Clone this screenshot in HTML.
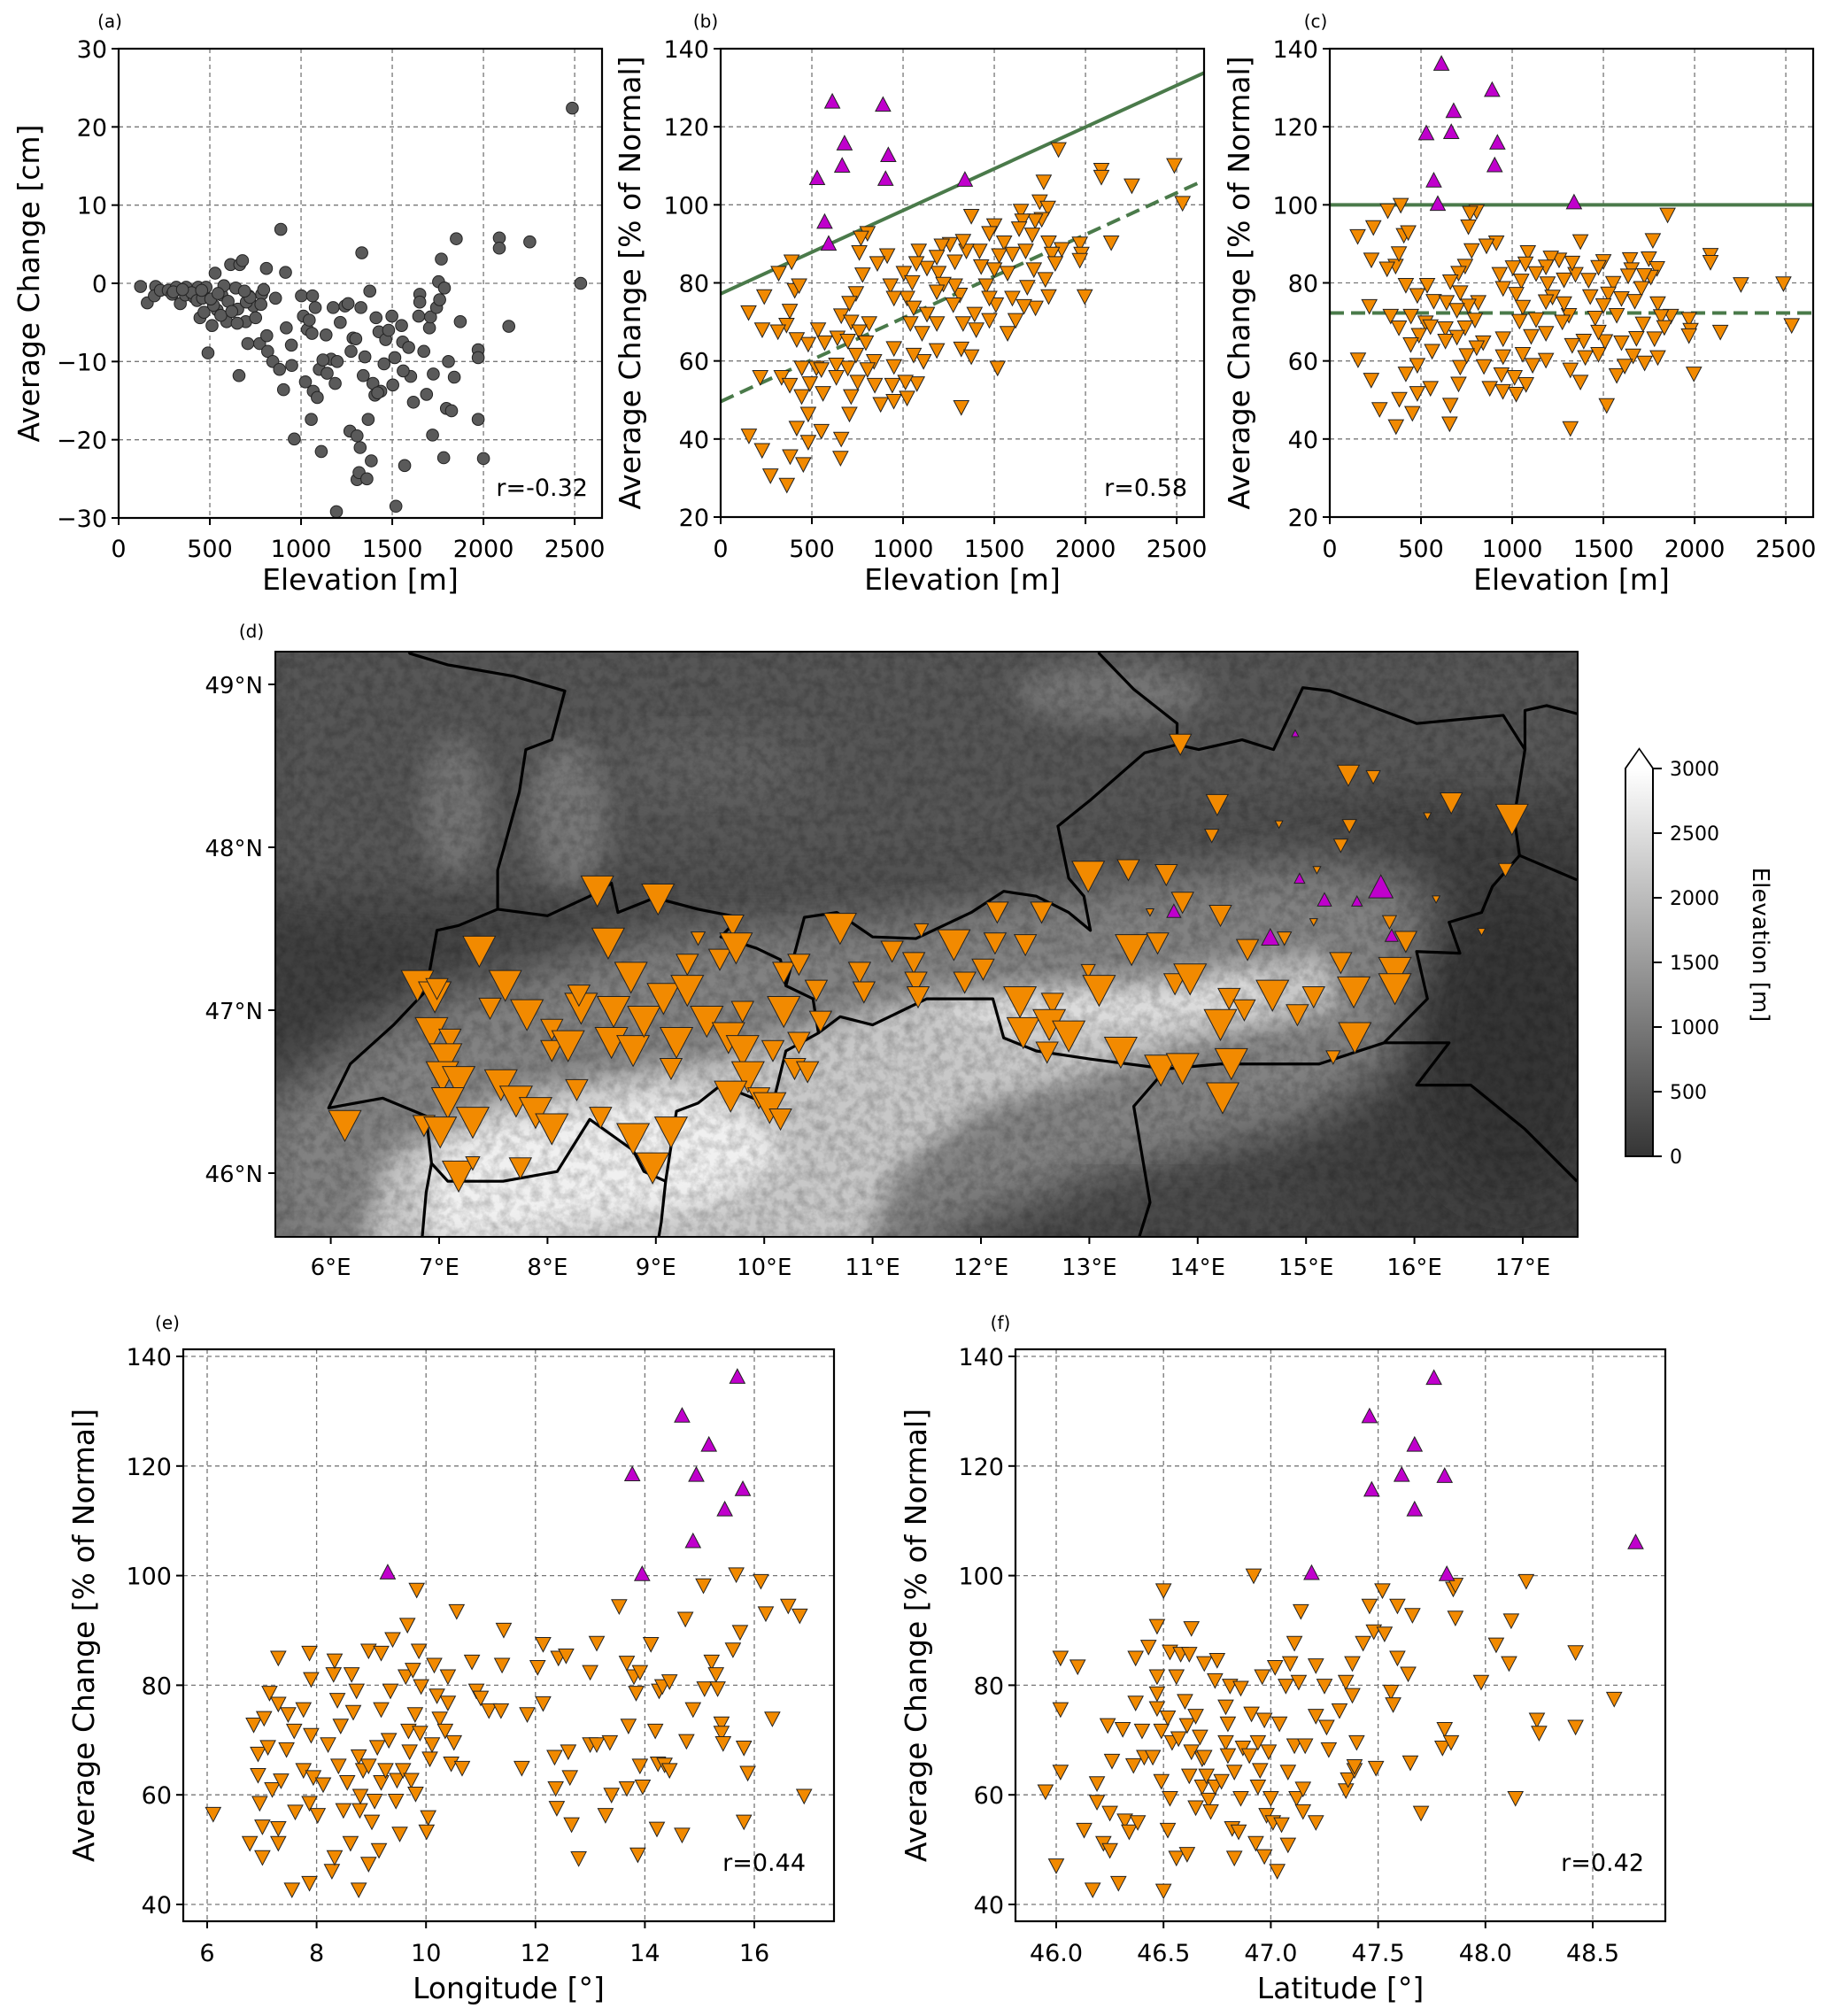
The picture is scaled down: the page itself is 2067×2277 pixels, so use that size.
<!DOCTYPE html>
<html><head><meta charset="utf-8"><title>Snow change figure</title>
<style>
html,body{margin:0;padding:0;background:#fff;}
svg{display:block;font-family:"DejaVu Sans","Liberation Sans",sans-serif;}
</style></head>
<body>
<svg id="fig" xmlns="http://www.w3.org/2000/svg" width="2067" height="2277" viewBox="0 0 2067 2277">
<defs>
<linearGradient id="cbgrad" x1="0" y1="1" x2="0" y2="0">
<stop offset="0" stop-color="#353535"/><stop offset="1" stop-color="#ffffff"/>
</linearGradient>
<clipPath id="mapclip"><rect x="311" y="736" width="1471" height="661"/></clipPath>
<filter id="blur30" x="-20%" y="-20%" width="140%" height="140%"><feGaussianBlur stdDeviation="30"/></filter>
<filter id="blur15" x="-20%" y="-20%" width="140%" height="140%"><feGaussianBlur stdDeviation="14"/></filter>
<filter id="blur8" x="-20%" y="-20%" width="140%" height="140%"><feGaussianBlur stdDeviation="8"/></filter>
<filter id="noise" x="0" y="0" width="100%" height="100%">
<feTurbulence type="fractalNoise" baseFrequency="0.09" numOctaves="4" seed="3"/>
<feColorMatrix type="matrix" values="0 0 0 0 0  0 0 0 0 0  0 0 0 0 0  0 0 0 -1.3 0.85"/>
</filter>
</defs>
<g id="layer"></g>
</svg>
<script>
// ---------------- DATA ----------------
// Panel (a): elevation [m] vs average change [cm]
const aElev=[120,157,203,196,229,272,294,316,338,366,370,414,436,446,468,479,490,512,529,540,566,577,592,614,642,653,660,664,679,697,708,714,740,751,773,784,795,810,812,817,845,860,882,889,904,915,919,947,949,963,1002,1013,1024,1035,1045,1056,1063,1067,1078,1089,1100,1111,1137,1143,1165,1176,1187,1194,1198,1215,1241,1258,1268,1274,1285,1307,1307,1318,1324,1333,1328,1341,1350,1361,1368,1377,1385,1394,1405,1411,1427,1437,1455,1464,1498,1503,1514,1520,1551,1557,1568,1590,1601,1616,1645,1651,1651,1673,1688,1704,1710,1721,1725,1743,1754,1760,1769,1782,1786,1797,1808,1825,1840,1851,1873,1971,1971,2000,2087,2087,2139,2254,2487,2533,1971,400,430,460,520,560,600,650,700,720,780,300,350,455,505,545,620,690,1060,1120,1300,1420,1480,1560];
const aChange=[-0.4,-2.5,-0.4,-1.6,-0.9,-0.9,-1.4,-0.5,-2.6,-1.5,-0.5,-1.8,-0.5,-4.4,-3.7,-0.5,-8.9,-5.4,1.3,-3.4,-1.5,-0.3,-4.9,2.4,-0.6,-3.3,-11.8,2.4,2.9,-4.9,-7.7,-1.6,-2.9,-4.4,-7.7,-1.4,-0.8,1.9,-6.7,-8.7,-10,-1.9,-11,6.9,-13.6,1.4,-5.7,-7.9,-10.5,-19.9,-1.6,-4.2,-12.6,-5.9,-4.7,-17.4,-1.6,-13.8,-3.1,-14.6,-11,-21.5,-6.6,-11.5,-9.7,-3.1,-12.8,-29.2,-10,-5,-2.9,-2.6,-18.9,-8.7,-7,-19.5,-25.1,-24.2,-21,3.9,-3.1,-11.8,-9.4,-25,-17.4,-1,-22.7,-12.8,-14.3,-4.4,-6.2,-13.8,-10.3,-7.2,-4.2,-13,-9.5,-28.5,-5.4,-7.5,-23.3,-8.2,-11.9,-15.2,-4.2,-1.4,-2.4,-8.7,-14.2,-5.7,-4.3,-19.4,-11.6,-3.1,0.2,-2.1,3.1,-22.3,-0.6,-16,-10,-16.3,-12,5.7,-4.9,-8.5,-17.4,-22.4,5.8,4.5,-5.5,5.3,22.4,0,-9.5,-1.2,-2.2,-1.9,-2.8,-4.1,-2.3,-5.1,-2.4,-1.8,-2.7,-1.1,-0.8,-0.9,-2.0,-1.3,-3.6,-1.0,-6.4,-9.8,-7.1,-14.0,-6.0,-11.2];
const aTicksX=[0,500,1000,1500,2000,2500];
const aTicksY=[-30,-20,-10,0,10,20,30];

// Panel (b): elevation vs % of normal; (c): detrended
const bElevUp=[612,890,679,919,666,529,904,1339,570,592];
const bValUp=[126.6,125.8,115.9,112.9,110.2,107,106.8,106.6,95.8,90.2];
const cValUp=[136.3,129.6,124.2,116.1,118.8,118.5,110.3,100.8,106.4,100.4];
const bElevDn=[1852,2087,2087,2487,2532,2254,1771,1749,1794,1760,1724,1374,1500,1646,1654,1636,1473,1708,2141,1969,1978,1969,1870,1798,1816,1834,1554,1599,1672,1717,1780,1798,1996,1681,1726,1663,1573,1617,1473,1509,1599,1573,1527,1419,1428,1500,1455,1473,1392,1401,1329,1311,1284,1275,1347,1329,1257,1284,1212,1185,1194,1221,1185,1131,1086,1073,1004,1050,1022,1058,1131,1185,1104,1185,1112,1058,950,1040,931,950,913,859,805,769,760,778,742,706,661,715,814,760,796,742,841,805,697,634,570,640,697,534,480,417,361,379,406,430,389,318,239,153,228,314,217,334,379,445,525,552,489,561,444,480,417,480,381,453,552,661,657,706,715,634,751,845,877,949,1022,1076,1013,950,155,227,273,363,1518,1319,1319,1374,941];
const bValDn=[114.1,108.8,107,110,100.3,104.8,105.8,100.7,99.1,96.2,95.8,97,94.6,98.3,95.8,93.8,92.6,92.2,90.2,89.9,87.3,85.7,88.5,90.2,87.3,84.9,90.2,87.3,88.1,83.3,80.8,76.4,76.4,78.8,73.5,73.9,67,70.3,70.3,74.3,76,82.4,86.9,88.1,84.1,83.3,79.2,76,71.9,67.9,69.5,76.8,79.2,74.3,88.1,90.6,89.8,85.3,89.4,86.5,82.4,79.6,77.6,83.7,88.1,84.9,82.4,80,76,73.5,71.9,69.5,67,62.6,59.8,61.4,63.1,69.5,79.2,76,86.9,84.9,92.6,91.4,87.7,82,77.2,74.7,71.5,69.9,69.5,67.4,64.6,61.4,59.8,57.7,58.1,58.9,64.6,65.8,65,67.9,64.2,65.4,69.1,72.7,78,79.2,85.3,82.4,76.4,72.3,67.9,67.4,55.7,55.7,53.7,58.1,58.1,57.7,54.1,51.6,50.8,46.3,42.7,39.1,35.4,33.4,41.9,39.9,35,46.3,50.8,55.7,54.5,53.7,48.8,49.6,50.4,54.1,54.5,58.5,40.7,37,30.5,28.1,58.1,48,63,61,53.7];
const cValDn=[97.3,87.0,85.2,79.7,69.0,79.5,90.8,86.1,83.6,81.4,81.8,90.5,85.4,85.9,83.3,81.7,83.9,78.5,67.3,70.6,67.8,66.4,71.4,74.6,71.3,68.5,79.8,75.9,75.2,69.4,65.6,60.8,56.6,65.7,59.4,61.2,56.2,58.6,61.6,64.9,64.6,71.6,77.1,80.6,76.4,74.1,70.9,67.3,65.0,60.8,63.9,71.6,74.6,69.9,82.1,85.0,85.8,80.7,86.3,84.0,79.7,76.3,75.1,82.3,87.7,84.8,83.8,80.4,77.0,73.7,70.5,67.0,66.2,60.1,58.8,61.6,65.6,70.1,82.1,78.5,90.2,89.4,98.2,97.8,94.3,88.2,84.2,82.4,80.2,77.4,74.9,74.0,70.4,68.4,64.6,63.3,66.0,68.2,75.2,74.9,72.9,79.3,76.7,79.3,84.2,87.4,92.1,92.8,99.8,98.4,94.1,91.8,85.8,83.5,73.9,71.4,68.4,71.4,69.7,68.7,66.5,62.4,64.1,58.8,56.6,51.6,50.1,46.5,52.9,48.6,43.8,54.0,58.3,65.0,61.3,58.5,52.9,52.1,51.4,53.9,55.7,61.0,60.2,55.0,47.5,43.1,48.5,42.6,57.6,54.5,56.4];
const bTrendIntercept=[77.2,49.6];   // solid, dashed at elevation 0
const bTrendSlope=[0.02136,0.02139]; // per metre
const cLevels=[100,72.3];            // solid, dashed
const pctTicks=[20,40,60,80,100,120,140];
const elevTicks=[0,500,1000,1500,2000,2500];

// Panel (d): stations [lon], [lat], [value % of normal]
const mapLon=[6.13,6.80,6.96,6.98,6.93,7.10,7.06,7.03,7.18,7.08,6.86,7.01,7.31,7.18,7.31,7.37,7.57,7.61,7.47,7.71,7.75,7.81,7.89,8.04,8.04,8.04,8.19,8.31,8.29,8.27,8.49,8.56,8.46,8.59,8.79,8.77,8.61,8.79,8.97,9.02,9.14,8.89,9.07,9.19,9.29,9.29,9.14,9.39,9.47,9.59,9.71,9.74,9.67,9.80,9.80,9.85,9.95,9.69,10.05,10.15,10.08,10.18,10.18,10.32,10.32,10.28,10.40,10.48,10.52,10.70,10.88,10.92,11.18,11.38,11.40,11.42,11.45,11.75,11.85,12.02,12.13,12.15,12.41,12.56,12.36,12.66,12.39,12.63,12.81,12.61,12.99,13.36,13.71,12.99,13.09,13.39,13.63,13.29,13.66,13.86,14.21,14.31,14.23,13.86,14.21,13.79,13.93,14.29,14.43,14.69,14.46,14.80,14.92,15.07,15.32,15.44,15.45,15.82,15.82,15.92,15.77,15.25,16.20,16.62,16.84,16.90,16.34,16.12,15.39,15.62,15.40,15.32,15.10,14.75,14.13,14.18,13.84,13.56,15.07,14.90,14.94,15.17,15.47,15.69,13.78,14.67,15.79];
const mapLat=[46.29,47.15,47.08,47.13,46.86,46.82,46.70,46.59,46.56,46.43,46.29,46.25,46.31,45.98,46.06,47.36,46.54,47.15,47.01,46.44,46.03,46.97,46.37,46.27,46.88,46.75,46.78,47.01,47.09,46.51,46.34,47.41,47.73,46.80,46.75,47.20,46.99,46.21,46.03,47.68,46.25,46.93,47.07,46.80,47.12,47.28,46.64,47.44,46.93,47.31,47.52,47.38,46.83,46.99,46.75,46.59,46.46,46.47,46.40,46.33,46.75,46.99,47.23,47.28,46.80,46.64,46.62,47.12,46.93,47.50,47.23,47.11,47.36,47.29,47.17,47.08,47.49,47.40,47.17,47.25,47.41,47.60,47.40,47.60,47.05,47.04,46.86,46.91,46.84,46.74,47.82,47.86,47.83,47.24,47.12,47.37,47.41,46.74,46.63,46.64,46.91,46.67,46.46,47.66,47.58,47.16,47.19,47.07,47.00,47.09,47.37,47.44,46.97,47.08,47.29,47.11,46.83,47.23,47.13,47.42,47.54,46.71,47.68,47.48,47.86,48.17,48.27,48.19,48.44,48.43,48.13,48.01,47.86,48.14,48.07,48.26,48.63,47.60,47.54,48.70,47.81,47.68,47.67,47.76,47.61,47.45,47.46];
const mapVal=[50,50,50,68,50,68,50,50,50,50,68,50,50,50,82,50,50,50,68,50,68,50,50,50,68,68,50,50,68,68,68,50,50,50,50,50,50,50,50,50,50,50,50,50,50,68,68,82,50,68,68,50,50,68,50,50,68,50,50,68,68,50,68,68,68,68,68,68,68,50,68,68,68,68,68,68,82,50,68,68,68,68,68,68,50,68,50,50,50,68,50,68,68,82,50,50,68,50,50,50,50,50,50,68,68,68,50,68,68,50,68,82,68,68,68,50,50,50,50,68,82,82,93,93,82,50,68,93,68,82,82,82,93,93,82,68,68,93,93,106,112,118,112,136,118,124,116];
const lonTicks=[6,7,8,9,10,11,12,13,14,15,16,17];
const latTicks=[46,47,48,49];
const cbTicks=[0,500,1000,1500,2000,2500,3000];

// Panel (e): longitude; (f): latitude
const eLonUp=[9.30,13.77,13.95,14.68,14.88,14.94,15.17,15.46,15.69,15.79];
const eValUp=[100.7,118.6,100.4,129.3,106.4,118.5,124,112.2,136.4,115.9];
const eLonDn=[6.11,6.78,6.85,6.93,6.93,6.96,7.01,7.01,7.04,7.11,7.14,7.19,7.30,7.30,7.30,7.30,7.35,7.45,7.48,7.55,7.59,7.61,7.76,7.76,7.87,7.87,7.90,7.90,7.87,7.94,8.02,8.12,8.21,8.28,8.31,8.33,8.33,8.38,8.40,8.44,8.49,8.56,8.62,8.64,8.67,8.73,8.77,8.77,8.79,8.80,8.85,8.95,8.95,8.95,9.01,9.06,9.11,9.14,9.18,9.18,9.18,9.26,9.32,9.35,9.39,9.45,9.47,9.52,9.58,9.63,9.66,9.68,9.70,9.73,9.76,9.80,9.81,9.83,9.87,9.89,9.91,10.01,10.04,10.07,10.11,10.15,10.20,10.25,10.35,10.40,10.40,10.46,10.51,10.56,10.66,10.84,10.92,11.00,11.15,11.37,11.39,11.42,11.75,11.85,12.04,12.14,12.14,12.35,12.37,12.39,12.42,12.56,12.60,12.63,12.66,12.79,13.0,13.0,13.12,13.12,13.28,13.36,13.39,13.53,13.67,13.67,13.70,13.80,13.84,13.87,13.91,13.91,13.96,14.11,14.19,14.22,14.24,14.26,14.32,14.36,14.45,14.45,14.68,14.74,14.76,14.88,15.07,15.09,15.22,15.30,15.33,15.40,15.40,15.43,15.67,15.61,15.74,15.81,15.88,15.81,16.12,16.21,16.33,16.62,16.83,16.91];
const eValDn=[56.4,51.1,72.7,67.4,63.5,58.4,54.1,48.5,73.9,68.6,78.5,60.9,76.5,51.1,53.8,84.9,62.5,68.2,74.6,42.6,71.6,56.8,64.4,75.5,43.8,85.8,81.0,70.8,58.4,63.1,56.2,61.8,69.1,46.0,81.9,84.4,48.5,77.2,65.2,72.5,57.1,62.2,51.1,81.9,75,78.9,42.6,66.9,57.1,59.7,64.4,47.3,65.2,86.2,55,58.8,68.6,49.8,85.8,62.2,75.5,64.4,69.9,78.9,88.3,58.8,62.6,52.8,64.4,81.5,90.9,71.6,67.8,62.6,82.7,74.6,60.1,97.3,86.2,71.2,79.7,53.2,55.8,66.5,69.1,83.6,78.0,73.8,71.6,81.5,76.7,65.6,69.5,93.4,64.8,84.2,78.9,77.6,75.3,75.3,83.6,90,64.8,74.6,83.2,87.4,76.6,66.8,61.1,57.5,84.9,85.3,67.8,63.1,54.5,48.3,82.3,69.1,87.6,69.1,56.2,69.5,59.9,94.3,84.0,61.1,72.5,81.5,78.5,49,65.2,82.3,61.4,87.4,71.6,53.7,65.6,78.9,79.7,65.4,80.6,64.4,52.6,92,69.7,75.5,98.1,79.3,84.2,81.9,79.3,72.9,71.2,69.3,100.1,86.4,89.6,68.5,63.9,55.0,98.9,93,73.8,94.4,92.6,59.7];
const fLatUp=[47.19,47.46,47.47,47.61,47.67,47.67,47.76,47.81,47.82,48.70];
const fValUp=[100.6,129.2,115.8,118.5,124,112.2,136.2,118.3,100.4,106.2];
const fLatDn=[45.95,46.0,46.02,46.02,46.02,46.10,46.13,46.17,46.19,46.19,46.22,46.24,46.25,46.25,46.26,46.29,46.31,46.32,46.34,46.36,46.37,46.37,46.38,46.40,46.41,46.43,46.45,46.47,46.47,46.47,46.47,46.49,46.49,46.50,46.50,46.52,46.52,46.53,46.53,46.54,46.56,46.56,46.57,46.58,46.60,46.61,46.61,46.62,46.62,46.63,46.63,46.65,46.65,46.67,46.68,46.68,46.69,46.69,46.70,46.71,46.72,46.74,46.74,46.75,46.77,46.79,46.79,46.80,46.80,46.81,46.82,46.83,46.83,46.85,46.86,46.86,46.87,46.90,46.91,46.92,46.93,46.94,46.94,46.95,46.96,46.97,46.97,46.98,46.99,47.00,47.01,47.02,47.03,47.04,47.05,47.07,47.08,47.08,47.09,47.11,47.11,47.12,47.13,47.14,47.15,47.15,47.16,47.21,47.21,47.21,47.25,47.26,47.27,47.32,47.35,47.35,47.36,47.38,47.38,47.39,47.39,47.40,47.43,47.46,47.48,47.49,47.52,47.53,47.56,47.57,47.59,47.59,47.64,47.65,47.66,47.70,47.80,47.81,47.84,47.85,47.86,47.86,47.98,48.05,48.11,48.12,48.14,48.19,48.24,48.25,48.42,48.42,48.60];
const fValDn=[60.5,47,84.9,75.5,64.1,83.3,53.5,42.6,58.6,62,51.1,72.6,56.6,49.8,66.1,43.8,71.9,55.2,53.2,65.3,84.9,76.7,54.9,71.6,66.8,86.9,66.8,90.7,78.4,75.7,81.5,62.4,71.6,97.2,42.4,53.5,74.0,59.3,86.0,69.5,48.4,81.5,70.2,85.6,77.0,72.6,49.1,85.6,63.4,90.3,67.8,74.3,57.6,70.5,66.5,61.4,83.9,66.8,63.4,59,56.9,80.8,61.4,84.5,62.4,69.5,76,72.9,67.1,79.8,53.8,48.4,64.1,53.2,79.4,59.3,68.5,67.1,74.7,99.9,51.1,69.5,61.4,64.4,81.5,48.7,73.6,56.2,67.8,59.3,54.9,83.2,46.0,72.9,54.5,79.8,50.8,64.1,83.9,87.6,68.9,59.3,80.5,93.4,56.9,61,68.9,54.9,74.3,83.5,79.8,72.3,68.2,75.3,60.7,80.5,62.7,78.1,83.9,64.4,65.1,69.5,87.6,94.4,89.7,64.8,97.2,89.3,78.7,76.4,94.4,84.9,82.0,65.8,92.7,56.6,68.5,71.9,69.5,97.5,92.2,98.2,80.5,87.3,83.9,91.7,59.3,98.9,73.6,71.2,85.9,72.3,77.4];
const eTicks=[6,8,10,12,14,16];
const fTicks=[46.0,46.5,47.0,47.5,48.0,48.5];
const ecTicks=[40,60,80,100,120,140];

// ---------------- DRAWING ----------------
const NS='http://www.w3.org/2000/svg';
const root=document.getElementById('layer');
function mk(tag,attrs,parent){const e=document.createElementNS(NS,tag);for(const k in attrs)e.setAttribute(k,attrs[k]);(parent||root).appendChild(e);return e;}
function lin(d0,d1,r0,r1){return v=>r0+(v-d0)/(d1-d0)*(r1-r0);}
const ORANGE='#f28a00', PURPLE='#c000cc';

function txt(x,y,s,size,anchor,parent,extra){const t=mk('text',Object.assign({x:x,y:y,'font-size':size,'text-anchor':anchor||'middle',fill:'#000'},extra||{}),parent);t.textContent=s;return t;}

function axesFrame(cfg){
  const g=mk('g',{});
  
  
  const {L,R,T,B,sx,sy}=cfg;
  cfg.xt.forEach(v=>{const l=mk('line',{x1:sx(v),x2:sx(v),y1:T,y2:B,stroke:'#777','stroke-width':1.3,'stroke-dasharray':'5,4'},g);
    
    });
  cfg.yt.forEach(v=>{const l=mk('line',{x1:L,x2:R,y1:sy(v),y2:sy(v),stroke:'#777','stroke-width':1.3,'stroke-dasharray':'5,4'},g);
    
    });
  cfg.xt.forEach((v,i)=>{mk('line',{x1:sx(v),x2:sx(v),y1:B,y2:B+8,stroke:'#000','stroke-width':2},g);
    const t=txt(sx(v),cfg.xtY,cfg.xfmt(v),27,'middle',g);
    
    });
  cfg.yt.forEach(v=>{mk('line',{x1:L-8,x2:L,y1:sy(v),y2:sy(v),stroke:'#000','stroke-width':2},g);
    const t=txt(L-13,sy(v)+10,cfg.yfmt(v),27,'end',g);
    
    });
  const xl=txt((L+R)/2,cfg.xlY,cfg.xlabel,33,'middle',g);
  
  
  const yl=txt(0,0,cfg.ylabel,33,'middle',g,{transform:`translate(${cfg.ylX},${(T+B)/2}) rotate(-90)`});
  
  
  const pl=txt(cfg.plX,cfg.plY,cfg.plabel,20,'middle',g);
  
  
  return g;
}
function frameBox(cfg,g){const r=mk('rect',{x:cfg.L,y:cfg.T,width:cfg.R-cfg.L,height:cfg.B-cfg.T,fill:'none',stroke:'#000','stroke-width':2.2},g);
  
  }
function tri(x,y,w,up,fill,g,name){
  const h=w*0.95;
  const d=up?`M${x-w/2},${y+h/2} L${x+w/2},${y+h/2} L${x},${y-h/2} Z`:`M${x-w/2},${y-h/2} L${x+w/2},${y-h/2} L${x},${y+h/2} Z`;
  const p=mk('path',{d:d,fill:fill,stroke:'#222','stroke-width':1,'stroke-linejoin':'miter'},g);
  
  
  return p;
}
function rtext(x,y,s,g){const t=txt(x,y,s,27,'end',g);
  
  }
const minus=v=>String(v).replace('-','\u2212');

// ---- Panel (a)
(function(){
  const cfg={name:'panel-a',L:134,R:680,T:55,B:585,xt:aTicksX,yt:aTicksY,xfmt:v=>v,yfmt:minus,xtY:629,xlY:666,ylX:44,
    xlabel:'Elevation [m]',ylabel:'Average Change [cm]',plabel:'(a)',plX:124,plY:31};
  cfg.sx=lin(0,2650,cfg.L,cfg.R); cfg.sy=lin(-30,30,cfg.B,cfg.T);
  const g=axesFrame(cfg);
  aElev.forEach((e,i)=>{const c=mk('circle',{cx:cfg.sx(e),cy:cfg.sy(aChange[i]),r:6.8,fill:'#5a5a5a',stroke:'#222','stroke-width':1},g);
    
    });
  frameBox(cfg,g);
  rtext(664,560,'r=-0.32',g);
})();

// ---- Panel (b) and (c)
function pctPanel(name,L,R,plabel,plX,upVals,dnVals,isDetrended){
  const cfg={name:name,L:L,R:R,T:55,B:584,xt:elevTicks,yt:pctTicks,xfmt:v=>v,yfmt:v=>v,xtY:629,xlY:666,ylX:L-91,
    xlabel:'Elevation [m]',ylabel:'Average Change [% of Normal]',plabel:plabel,plX:plX,plY:31};
  cfg.sx=lin(0,2650,L,R); cfg.sy=lin(20,140,cfg.B,cfg.T);
  const g=axesFrame(cfg);
  const cp='clip-'+name;
  const cl=mk('clipPath',{id:cp},g); mk('rect',{x:L,y:cfg.T,width:R-L,height:cfg.B-cfg.T},cl);
  for(let k=0;k<2;k++){
    let y0,y1;
    if(isDetrended){y0=cfg.sy(cLevels[k]);y1=y0;}
    else{y0=cfg.sy(bTrendIntercept[k]);y1=cfg.sy(bTrendIntercept[k]+bTrendSlope[k]*2650);}
    const ln=mk('line',{x1:L,x2:R,y1:y0,y2:y1,stroke:'#4a7a4a','stroke-width':4,'stroke-dasharray':k?'16,8':'none','clip-path':`url(#${cp})`},g);
    
    
  }
  bElevDn.forEach((e,i)=>tri(cfg.sx(e),cfg.sy(dnVals[i]),17,false,ORANGE,g,'decrease-marker'));
  bElevUp.forEach((e,i)=>tri(cfg.sx(e),cfg.sy(upVals[i]),17,true,PURPLE,g,'increase-marker'));
  frameBox(cfg,g);
  return g;
}
const gb=pctPanel('panel-b',814,1360,'(b)',797,bValUp,bValDn,false);
rtext(1341,560,'r=0.58',gb);
pctPanel('panel-c',1502,2048,'(c)',1486,cValUp,cValDn,true);

// ---- Panel (d) map
(function(){
  const g=mk('g',{});
  
  
  const px=lin(6,17,373.6,1720), py=lin(49,46,773,1325);
  const P=a=>a.map(p=>px(p[0])+','+py(p[1])).join(' ');
  const bg=mk('g',{'clip-path':'url(#mapclip)'},g);
  
  
  mk('rect',{x:311,y:736,width:1471,height:661,fill:'#404040'},bg);
  mk('polygon',{points:P([[5.3,47.7],[7.5,47.6],[9,47.75],[10.5,47.75],[12.5,47.9],[14,48.1],[16,48.3],[17.7,48.3],[17.7,49.4],[5.3,49.4]]),fill:'#575757',filter:'url(#blur30)'},bg);
  mk('polygon',{points:P([[5.3,45.4],[5.3,46.4],[6.2,46.8],[7.0,47.1],[8,47.3],[9,47.5],[10,47.55],[11,47.6],[12,47.7],[13,47.8],[14,47.9],[15,47.95],[16,47.85],[16.3,47.4],[16.1,46.8],[15,46.3],[14,46.1],[13,45.9],[12,45.7],[11,45.3]]),fill:'#828282',filter:'url(#blur30)'},bg);
  mk('polygon',{points:P([[6.2,45.3],[6.5,46.1],[7.5,46.45],[8.5,46.6],[9.5,46.7],[10.5,46.9],[11.5,47.1],[12.5,47.15],[13.5,47.2],[14.5,47.3],[15.2,47.35],[15.3,47.0],[14,46.8],[13,46.6],[12,46.4],[11.2,46.0],[10.8,45.3]]),fill:'#c8c8c8',filter:'url(#blur15)'},bg);
  mk('polygon',{points:P([[6.9,45.6],[6.9,46.1],[7.5,46.3],[8.3,46.4],[9.2,46.5],[9.8,46.4],[10.2,46.1],[9.5,45.8],[8.5,45.7],[7.6,45.6]]),fill:'#f0f0f0',filter:'url(#blur15)'},bg);
  mk('polygon',{points:P([[11.5,47.0],[12.5,47.1],[13.5,47.1],[14.5,47.2],[14.6,47.0],[13.5,46.9],[12.3,46.85]]),fill:'#dcdcdc',filter:'url(#blur8)'},bg);
  mk('ellipse',{cx:px(8.2),cy:py(48.2),rx:45,ry:85,fill:'#777',filter:'url(#blur15)'},bg);
  mk('ellipse',{cx:px(7.15),cy:py(48.25),rx:40,ry:80,fill:'#727272',filter:'url(#blur15)'},bg);
  mk('ellipse',{cx:px(13.2),cy:py(48.95),rx:110,ry:35,fill:'#747474',filter:'url(#blur15)'},bg);
  mk('ellipse',{cx:px(9.5),cy:py(48.5),rx:120,ry:40,fill:'#646464',filter:'url(#blur30)'},bg);
  mk('ellipse',{cx:px(16.9),cy:py(46.8),rx:110,ry:170,fill:'#363636',filter:'url(#blur30)'},bg);
  mk('ellipse',{cx:px(14.0),cy:py(45.75),rx:160,ry:40,fill:'#4c4c4c',filter:'url(#blur30)'},bg);
  mk('rect',{x:311,y:736,width:1471,height:661,filter:'url(#noise)',opacity:0.3},bg);
  const borders=[
    [[6.69,49.25],[6.73,49.19],[7.08,49.12],[7.69,49.05],[8.16,48.96],[8.04,48.66],[7.8,48.6],[7.74,48.34],[7.6,48.0],[7.54,47.86],[7.54,47.62]],
    [[7.54,47.62],[8.0,47.58],[8.39,47.70],[8.59,47.78],[8.65,47.6],[8.99,47.69],[9.39,47.62],[9.77,47.57],[9.6,47.45],[9.93,47.38],[10.15,47.31],[10.20,47.15],[10.45,47.07],[10.50,46.86],[10.20,46.75],[10.10,46.48],[9.90,46.46],[9.60,46.54],[9.39,46.43],[9.19,46.38],[9.09,45.95],[8.89,46.01],[8.79,46.14],[8.39,46.33],[8.09,46.01],[7.59,45.95],[7.08,45.95],[6.93,46.06],[6.88,46.35],[6.48,46.46],[5.98,46.40],[6.18,46.67],[6.58,46.91],[6.88,47.12],[6.98,47.49],[7.18,47.52],[7.54,47.62]],
    [[10.20,47.15],[10.37,47.57],[10.67,47.60],[11.0,47.45],[11.40,47.44],[11.91,47.60],[12.21,47.73],[12.51,47.70],[12.81,47.60],[13.01,47.49],[12.95,47.7],[12.81,47.81],[12.71,48.13],[13.01,48.29],[13.51,48.58],[13.81,48.63],[14.01,48.60],[14.41,48.66],[14.70,48.60],[14.97,48.98],[15.22,48.96],[16.02,48.76],[16.82,48.81],[17.02,48.60],[16.92,48.18],[16.97,47.95],[16.72,47.76],[16.62,47.60],[16.32,47.54],[16.42,47.35],[16.02,47.36],[16.12,47.07],[15.72,46.80],[15.12,46.67],[14.21,46.67],[13.71,46.64],[13.01,46.70],[12.51,46.75],[12.21,46.83],[12.11,47.07],[11.50,47.07],[11.00,46.91],[10.70,46.96],[10.50,46.86]],
    [[13.09,49.25],[13.09,49.19],[13.41,48.97],[13.81,48.76],[13.81,48.63]],
    [[17.02,48.60],[17.02,48.84],[17.22,48.87],[17.5,48.82]],
    [[16.97,47.95],[17.5,47.8]],
    [[13.41,45.5],[13.56,45.82],[13.41,46.41],[13.71,46.64]],
    [[15.72,46.80],[16.32,46.80],[16.02,46.54],[16.52,46.54],[17.02,46.27],[17.5,45.95]],
    [[6.93,46.06],[6.88,45.88],[6.83,45.5]],
    [[9.09,45.95],[9.05,45.7],[9.0,45.5]]
  ];
  borders.forEach(b=>{const l=mk('polyline',{points:P(b),fill:'none',stroke:'#000','stroke-width':3.2,'stroke-linejoin':'round'},bg);
    
    });
  const sz=v=>4+0.65*Math.abs(100-v);
  mapLon.forEach((lo,i)=>{const v=mapVal[i];tri(px(lo),py(mapLat[i]),sz(v),v>=100,v>=100?PURPLE:ORANGE,bg,'station-marker');});
  const fr=mk('rect',{x:311,y:736,width:1471,height:661,fill:'none',stroke:'#000','stroke-width':2},g);
  
  
  lonTicks.forEach(v=>{mk('line',{x1:px(v),x2:px(v),y1:1397,y2:1405,stroke:'#000','stroke-width':2},g);
    const t=txt(px(v),1440,v+'°E',26,'middle',g);
    
    });
  latTicks.forEach(v=>{mk('line',{x1:303,x2:311,y1:py(v),y2:py(v),stroke:'#000','stroke-width':2},g);
    const t=txt(297,py(v)+10,v+'°N',26,'end',g);
    
    });
  const pl=txt(284,720,'(d)',20,'middle',g);
  
  
  const cb=mk('g',{},g);
  
  
  const cy=lin(0,3000,1306,868);
  mk('rect',{x:1836,y:868,width:31,height:438,fill:'url(#cbgrad)'},cb);
  mk('path',{d:'M1836,1306 L1836,868 L1851.5,846 L1867,868 L1867,1306 Z',fill:'none',stroke:'#000','stroke-width':2},cb);
  mk('path',{d:'M1837,868 L1851.5,847 L1866,868 Z',fill:'#fff'},cb);
  cbTicks.forEach(v=>{mk('line',{x1:1867,x2:1877,y1:cy(v),y2:cy(v),stroke:'#000','stroke-width':2},cb);
    const t=txt(1886,cy(v)+8,String(v),22,'start',cb);
    
    });
  const et=txt(0,0,'Elevation [m]',26,'middle',cb,{transform:'translate(1980,1067) rotate(90)'});
  
  
})();

// ---- Panels (e),(f)
function lowerPanel(name,L,R,d0,d1,r0,r1,ticks,fmt,xlabel,plabel,plX,upX,upV,dnX,dnV){
  const cfg={name:name,L:L,R:R,T:1524,B:2170,xt:ticks,yt:ecTicks,xfmt:fmt,yfmt:v=>v,xtY:2215,xlY:2257,ylX:L-101,
    xlabel:xlabel,ylabel:'Average Change [% of Normal]',plabel:plabel,plX:plX,plY:1501};
  cfg.sx=lin(d0,d1,r0,r1); cfg.sy=lin(40,140,2151,1532);
  const g=axesFrame(cfg);
  dnX.forEach((x,i)=>tri(cfg.sx(x),cfg.sy(dnV[i]),17,false,ORANGE,g,'decrease-marker'));
  upX.forEach((x,i)=>tri(cfg.sx(x),cfg.sy(upV[i]),17,true,PURPLE,g,'increase-marker'));
  frameBox(cfg,g);
  return g;
}
const ge=lowerPanel('panel-e',207,942,6,16,234,852,eTicks,v=>v,'Longitude [°]','(e)',189,eLonUp,eValUp,eLonDn,eValDn);
rtext(910,2113,'r=0.44',ge);
const gf=lowerPanel('panel-f',1147,1881,46,48.5,1193,1799,fTicks,v=>v.toFixed(1),'Latitude [°]','(f)',1130,fLatUp,fValUp,fLatDn,fValDn);
rtext(1857,2113,'r=0.42',gf);
</script>
</body></html>
